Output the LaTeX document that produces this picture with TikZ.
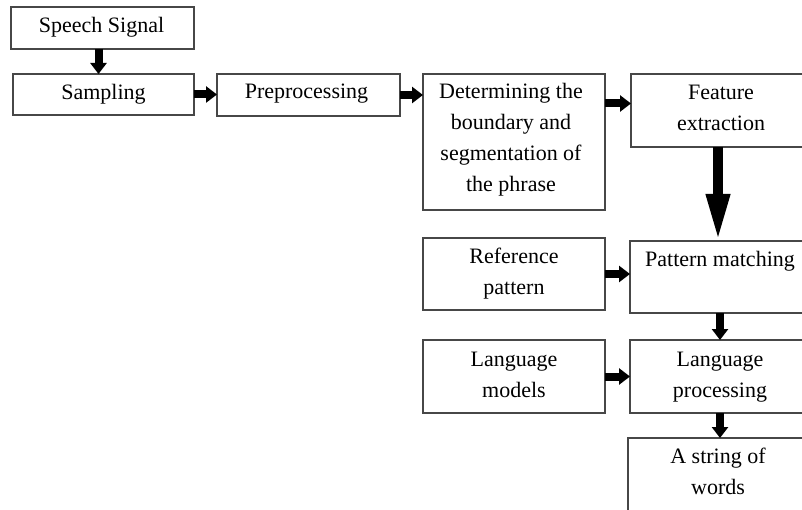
\documentclass[tikz,border=0pt]{standalone}
\usepackage{fontspec}
\setmainfont{Liberation Serif}
\usetikzlibrary{arrows.meta,calc}
\begin{document}
\begin{tikzpicture}[x=1pt,y=-1pt,
  stage/.style={draw=black!72,line width=1.3pt,rectangle,inner sep=0pt,outer sep=0pt,anchor=north west},
  caption/.style={anchor=north,align=center,inner sep=0pt,font=\fontsize{22}{31}\selectfont},
  flow/.style={line width=8pt,-{Triangle[length=11pt,width=16pt]}},
  bigflow/.style={line width=9.5pt,-{Triangle[length=47pt,width=22pt]}}]
\useasboundingbox (0,0) rectangle (802,510);
\clip (0,0) rectangle (802,510);

% stages of the recognizer
\node[stage,minimum width=183pt,minimum height=42pt] (speech) at (11,7) {};
\node[stage,minimum width=181pt,minimum height=41pt] (samp) at (13,74) {};
\node[stage,minimum width=183pt,minimum height=42pt] (pre) at (217,74) {};
\node[stage,minimum width=182pt,minimum height=136pt] (det) at (423,74) {};
\node[stage,minimum width=180pt,minimum height=73pt] (feat) at (631,74) {};
\node[stage,minimum width=182pt,minimum height=72pt] (ref) at (423,238) {};
\node[stage,minimum width=180pt,minimum height=72pt] (pat) at (630,241) {};
\node[stage,minimum width=182pt,minimum height=73pt] (lm) at (423,340) {};
\node[stage,minimum width=180pt,minimum height=73pt] (lp) at (630,340) {};
\node[stage,minimum width=180pt,minimum height=90pt] (str) at (628,438) {};

% captions, set from the top of each stage
\node[caption] (speechT) at ($(speech.north)+(-1,10)$) {Speech Signal};
\node[caption] (sampT) at ($(samp.north)+(0,10)$) {Sampling};
\node[caption] (preT) at ($(pre.north)+(-2,10)$) {Preprocessing};
\node[caption] (detT) at ($(det.north)+(-3,9)$) {Determining the\\boundary and\\segmentation of\\the phrase};
\node[caption] (featT) at ($(feat.north)+(0,11)$) {Feature\\extraction};
\node[caption] (refT) at ($(ref.north)+(0,10)$) {Reference\\pattern};
\node[caption] (patT) at ($(pat.north)+(0,10)$) {Pattern matching};
\node[caption] (lmT) at ($(lm.north)+(0,12)$) {Language\\models};
\node[caption] (lpT) at ($(lp.north)+(0,12)$) {Language\\processing};
\node[caption] (strT) at ($(str.north)+(0,10)$) {A string of\\words};

% connectors
\coordinate (s1) at ($(speech.south)+(-4,0)$);
\coordinate (s2) at ($(samp.north)+(-5,0)$);
\draw[flow] (s1) -- (s2);
\draw[flow] (samp.east) -- (samp.east -| pre.west);
\draw[flow] (pre.east) -- (pre.east -| det.west);
\coordinate (df) at ($(feat.west)+(0,-7)$);
\draw[flow] (det.east |- df) -- (df);
\coordinate (fp) at ($(feat.south)+(-3,0)$);
\draw[bigflow] (fp) -- (fp |- pat.north);
\draw[flow] (ref.east) -- (ref.east -| pat.west);
\draw[flow] (pat.south) -- (pat.south |- lp.north);
\draw[flow] (lm.east) -- (lm.east -| lp.west);
\draw[flow] (lp.south) -- (lp.south |- str.north);
\end{tikzpicture}
\end{document}
